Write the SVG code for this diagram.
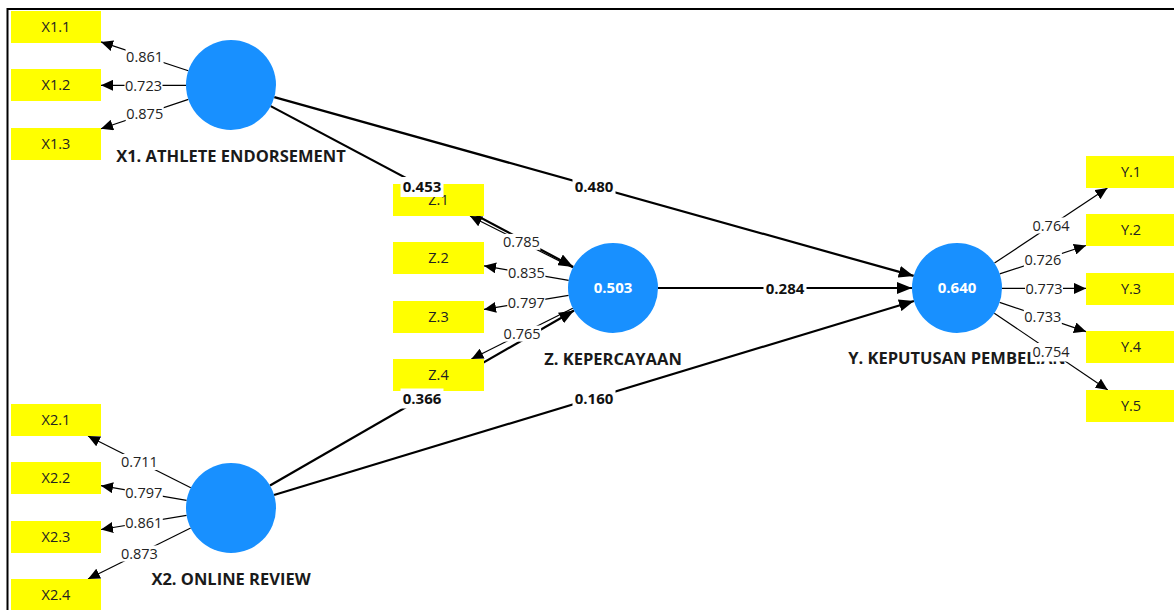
<svg xmlns="http://www.w3.org/2000/svg" width="1174" height="610" viewBox="0 0 1174 610">
<style>
.lv{fill:#1890ff}
.ind{fill:#ffff00}
.it{font-family:"Open Sans","Noto Sans",sans-serif;font-size:14.5px;fill:#222;text-anchor:middle}
.nl{font-family:"Open Sans","Noto Sans",sans-serif;font-size:16.5px;font-weight:bold;fill:#1a1a1a;text-anchor:middle}
.nv{font-family:"Open Sans","Noto Sans",sans-serif;font-size:15px;font-weight:bold;fill:#fff;text-anchor:middle}
.ld{stroke:#000;stroke-width:1.2;fill:none;marker-end:url(#aL)}
.pt{stroke:#000;stroke-width:2.2;fill:none;marker-end:url(#aP)}
.lt{font-family:"Open Sans","Noto Sans",sans-serif;font-size:14.5px;fill:#222;text-anchor:middle}
.pl{font-family:"Open Sans","Noto Sans",sans-serif;font-size:15px;font-weight:bold;fill:#111;text-anchor:middle}
.bg{fill:#fff}
</style>
<defs>
<marker id="aL" markerUnits="userSpaceOnUse" viewBox="0 0 12 11" refX="12" refY="5.5" markerWidth="12" markerHeight="11" orient="auto"><path d="M0,0 L12,5.5 L0,11 z" fill="#000"/></marker>
<marker id="aP" markerUnits="userSpaceOnUse" viewBox="0 0 15 12" refX="15" refY="6" markerWidth="15" markerHeight="12" orient="auto"><path d="M0,0 L15,6 L0,12 z" fill="#000"/></marker>
</defs>
<rect x="0" y="0" width="1174" height="610" fill="#fff"/>
<rect x="7.5" y="9" width="1300" height="700" fill="none" stroke="#000" stroke-width="2"/>
<g id="connectors">
<line class="ld" x1="188.3" y1="70.8" x2="101" y2="41.9"/>
<line class="ld" x1="186" y1="85.3" x2="101" y2="85.3"/>
<line class="ld" x1="188.4" y1="99.4" x2="101" y2="128.8"/>
<line class="ld" x1="190.8" y1="487.8" x2="88" y2="436"/>
<line class="ld" x1="186.6" y1="500.4" x2="101" y2="485.7"/>
<line class="ld" x1="186.6" y1="515.4" x2="101" y2="529.5"/>
<line class="ld" x1="190.7" y1="528" x2="88" y2="579"/>
<line class="ld" x1="572.8" y1="267.7" x2="470" y2="216"/>
<line class="ld" x1="568.7" y1="280.4" x2="484" y2="265.8"/>
<line class="ld" x1="568.6" y1="295.4" x2="484" y2="309.4"/>
<line class="ld" x1="572.8" y1="308.2" x2="471.4" y2="359"/>
<line class="ld" x1="994.5" y1="263.1" x2="1107.4" y2="188"/>
<line class="ld" x1="999.7" y1="273.9" x2="1086" y2="245.5"/>
<line class="ld" x1="1002" y1="288.4" x2="1086" y2="288.4"/>
<line class="ld" x1="999.6" y1="302.4" x2="1086" y2="331.6"/>
<line class="ld" x1="994.3" y1="313.2" x2="1107.8" y2="390"/>
<line class="pt" x1="270.7" y1="106.1" x2="573.3" y2="266.9"/>
<line class="pt" x1="274.3" y1="97.1" x2="913.7" y2="275.9"/>
<line class="pt" x1="658" y1="288" x2="912" y2="288"/>
<line class="pt" x1="270" y1="485.5" x2="574" y2="310.5"/>
<line class="pt" x1="274" y1="495" x2="914" y2="301"/>
</g>
<g id="X1">
<circle class="lv" cx="231" cy="85" r="45"/>
<text class="nl" x="231" y="162">X1. ATHLETE ENDORSEMENT</text>
</g>
<g id="X2">
<circle class="lv" cx="231" cy="508" r="45"/>
<text class="nl" x="231" y="585">X2. ONLINE REVIEW</text>
</g>
<g id="Z">
<circle class="lv" cx="613" cy="288" r="45"/>
<text class="nv" x="613" y="293">0.503</text>
<text class="nl" x="613" y="365">Z. KEPERCAYAAN</text>
</g>
<g id="Y">
<circle class="lv" cx="957" cy="288" r="45"/>
<text class="nv" x="957" y="293">0.640</text>
<text class="nl" x="957" y="364">Y. KEPUTUSAN PEMBELIAN</text>
</g>
<g id="X1.1"><rect class="ind" x="11" y="11" width="90" height="32"/><text class="it" x="56" y="32">X1.1</text></g>
<g id="X1.2"><rect class="ind" x="11" y="69" width="90" height="32"/><text class="it" x="56" y="90">X1.2</text></g>
<g id="X1.3"><rect class="ind" x="11" y="128" width="90" height="32"/><text class="it" x="56" y="149">X1.3</text></g>
<g id="X2.1"><rect class="ind" x="11" y="404" width="90" height="32"/><text class="it" x="56" y="425">X2.1</text></g>
<g id="X2.2"><rect class="ind" x="11" y="462" width="90" height="32"/><text class="it" x="56" y="483">X2.2</text></g>
<g id="X2.3"><rect class="ind" x="11" y="521" width="90" height="32"/><text class="it" x="56" y="542">X2.3</text></g>
<g id="X2.4"><rect class="ind" x="11" y="579" width="90" height="32"/><text class="it" x="56" y="600">X2.4</text></g>
<g id="Z.1"><rect class="ind" x="393" y="184" width="91" height="32"/><text class="it" x="438.5" y="205">Z.1</text></g>
<g id="Z.2"><rect class="ind" x="393" y="242" width="91" height="32"/><text class="it" x="438.5" y="263">Z.2</text></g>
<g id="Z.3"><rect class="ind" x="393" y="301" width="91" height="32"/><text class="it" x="438.5" y="322">Z.3</text></g>
<g id="Z.4"><rect class="ind" x="393" y="359" width="91" height="32"/><text class="it" x="438.5" y="380">Z.4</text></g>
<g id="Y.1"><rect class="ind" x="1086" y="156" width="91" height="32"/><text class="it" x="1131" y="177">Y.1</text></g>
<g id="Y.2"><rect class="ind" x="1086" y="214" width="91" height="32"/><text class="it" x="1131" y="235">Y.2</text></g>
<g id="Y.3"><rect class="ind" x="1086" y="273" width="91" height="32"/><text class="it" x="1131" y="294">Y.3</text></g>
<g id="Y.4"><rect class="ind" x="1086" y="331" width="91" height="32"/><text class="it" x="1131" y="352">Y.4</text></g>
<g id="Y.5"><rect class="ind" x="1086" y="390" width="91" height="32"/><text class="it" x="1131" y="411">Y.5</text></g>
<g id="connector-labels">
<rect class="bg" x="125.6" y="48.3" width="38" height="16"/><text class="lt" x="144.6" y="61.5">0.861</text>
<rect class="bg" x="124.5" y="77.3" width="38" height="16"/><text class="lt" x="143.5" y="90.5">0.723</text>
<rect class="bg" x="125.7" y="106" width="38" height="16"/><text class="lt" x="144.7" y="119.2">0.875</text>
<rect class="bg" x="120.4" y="454" width="38" height="16"/><text class="lt" x="139.4" y="467.2">0.711</text>
<rect class="bg" x="124.8" y="485" width="38" height="16"/><text class="lt" x="143.8" y="498.2">0.797</text>
<rect class="bg" x="124.8" y="514.5" width="38" height="16"/><text class="lt" x="143.8" y="527.7">0.861</text>
<rect class="bg" x="120.4" y="545.5" width="38" height="16"/><text class="lt" x="139.4" y="558.7">0.873</text>
<rect class="bg" x="502.4" y="233.9" width="38" height="16"/><text class="lt" x="521.4" y="247.1">0.785</text>
<rect class="bg" x="507.4" y="265.1" width="38" height="16"/><text class="lt" x="526.4" y="278.3">0.835</text>
<rect class="bg" x="507.3" y="294.4" width="38" height="16"/><text class="lt" x="526.3" y="307.6">0.797</text>
<rect class="bg" x="503.1" y="325.6" width="38" height="16"/><text class="lt" x="522.1" y="338.8">0.765</text>
<rect class="bg" x="1032" y="217.5" width="38" height="16"/><text class="lt" x="1051" y="230.7">0.764</text>
<rect class="bg" x="1023.9" y="251.7" width="38" height="16"/><text class="lt" x="1042.9" y="264.9">0.726</text>
<rect class="bg" x="1025" y="280.4" width="38" height="16"/><text class="lt" x="1044" y="293.6">0.773</text>
<rect class="bg" x="1023.8" y="309" width="38" height="16"/><text class="lt" x="1042.8" y="322.2">0.733</text>
<rect class="bg" x="1033" y="343" width="37" height="18.5"/><text class="lt" x="1051" y="356.8">0.754</text>
<rect class="bg" x="400.5" y="177" width="43" height="20"/><text class="pl" x="422" y="192">0.453</text>
<rect class="bg" x="572.5" y="177" width="43" height="20"/><text class="pl" x="594" y="192">0.480</text>
<rect class="bg" x="763.5" y="278.5" width="43" height="20"/><text class="pl" x="785" y="293.5">0.284</text>
<rect class="bg" x="400.5" y="388.5" width="43" height="20"/><text class="pl" x="422" y="403.5">0.366</text>
<rect class="bg" x="572.5" y="388.5" width="43" height="20"/><text class="pl" x="594" y="403.5">0.160</text>
</g>
</svg>
